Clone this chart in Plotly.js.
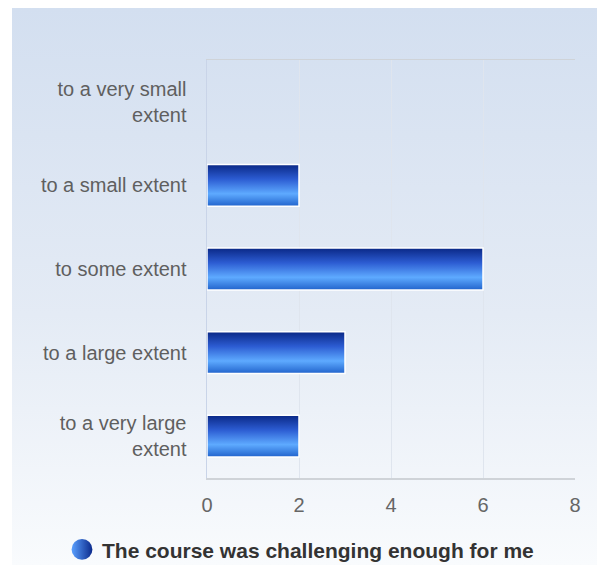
<!DOCTYPE html>
<html>
<head>
<meta charset="utf-8">
<script src="https://cdn.plot.ly/plotly-3.0.1.min.js"></script>
<style>
  html, body { margin:0; padding:0; background:#ffffff; }
  #wrap { position:relative; width:597px; height:565px; overflow:hidden; background:#ffffff; }
  #bg { position:absolute; left:12px; top:8px; right:0; bottom:0;
        background:linear-gradient(to bottom, #d3dff0 0%, #e4ebf5 55%, #f9fbfd 100%); }
  #chart { position:absolute; left:0; top:0; width:597px; height:565px; }
</style>
</head>
<body>
<div id="wrap"><div id="bg"></div><div id="chart"></div></div>
<script>
const categories = ["to a very small<br>extent", "to a small extent", "to some extent", "to a large extent", "to a very large<br>extent"];
const values = [0, 2, 6, 3, 2];
const xTicks = [0, 2, 4, 6, 8];
const seriesName = "The course was challenging enough for me";

const data = [
  {
    type: "bar", orientation: "h",
    x: values, y: categories,
    width: 0.5,
    marker: { color: "#3a72e0", line: { color: "#ffffff", width: values.map(v => v > 0 ? 1.5 : 0) } },
    showlegend: false, hoverinfo: "none"
  },
  {
    type: "scatter", mode: "markers",
    x: [null], y: [null],
    name: seriesName,
    marker: { symbol: "circle", size: 16, color: "#5aa0ff",
              gradient: { type: "horizontal", color: "#0b2a8c" },
              line: { width: 0 } },
    showlegend: true, hoverinfo: "none"
  }
];

const layout = {
  width: 597, height: 565,
  margin: { l: 207, r: 22, t: 60, b: 87 },
  paper_bgcolor: "rgba(0,0,0,0)",
  plot_bgcolor: "rgba(0,0,0,0)",
  font: { family: "Liberation Sans, Arial, sans-serif", size: 20, color: "#5f5f5f" },
  xaxis: {
    range: [0, 8], tickvals: xTicks, ticktext: xTicks.map(String),
    showgrid: true, gridcolor: "#dfe5ee", gridwidth: 1,
    zeroline: false, showline: true, linecolor: "#cfd3d8", linewidth: 1.5, mirror: true,
    ticks: "", ticklabelstandoff: 8,
    tickfont: { size: 20, color: "#666666" }, fixedrange: true
  },
  yaxis: {
    type: "category", categoryorder: "array", categoryarray: categories,
    autorange: "reversed",
    showgrid: false, zeroline: false, showline: true, linecolor: "#c9d4e8", linewidth: 1.5,
    ticks: "", ticklabelstandoff: 15,
    tickfont: { size: 20, color: "#5f5f5f" }, fixedrange: true
  },
  showlegend: true,
  legend: {
    orientation: "h", xref: "container", yref: "container",
    x: 62 / 597, xanchor: "left", y: 0.027, yanchor: "middle",
    font: { size: 21, color: "#333333", family: "Liberation Sans, Arial, sans-serif", weight: "bold" },
    bgcolor: "rgba(0,0,0,0)", itemsizing: "trace"
  },
  bargap: 0.5
};

Plotly.newPlot("chart", data, layout, { staticPlot: true, displayModeBar: false }).then(function (gd) {
  const svgNS = "http://www.w3.org/2000/svg";
  const svg = gd.querySelector(".main-svg");
  let defs = svg.querySelector("defs");
  if (!defs) { defs = document.createElementNS(svgNS, "defs"); svg.insertBefore(defs, svg.firstChild); }
  const grad = document.createElementNS(svgNS, "linearGradient");
  grad.setAttribute("id", "barGrad");
  grad.setAttribute("x1", "0"); grad.setAttribute("y1", "0");
  grad.setAttribute("x2", "0"); grad.setAttribute("y2", "1");
  [["0%", "#0a2886"], ["35%", "#2c5cd2"], ["70%", "#5eaaff"], ["100%", "#2163cc"]].forEach(function (s) {
    const st = document.createElementNS(svgNS, "stop");
    st.setAttribute("offset", s[0]); st.setAttribute("stop-color", s[1]);
    grad.appendChild(st);
  });
  defs.appendChild(grad);
  gd.querySelectorAll(".barlayer .point path").forEach(function (p) {
    p.style.fill = "url(#barGrad)";
  });
  gd.querySelectorAll(".legend .legendpoints path.scatterpts").forEach(function (p) {
    const t = p.getAttribute("transform") || "";
    p.setAttribute("transform", t + " scale(1.3)");
  });
});
</script>
</body>
</html>
